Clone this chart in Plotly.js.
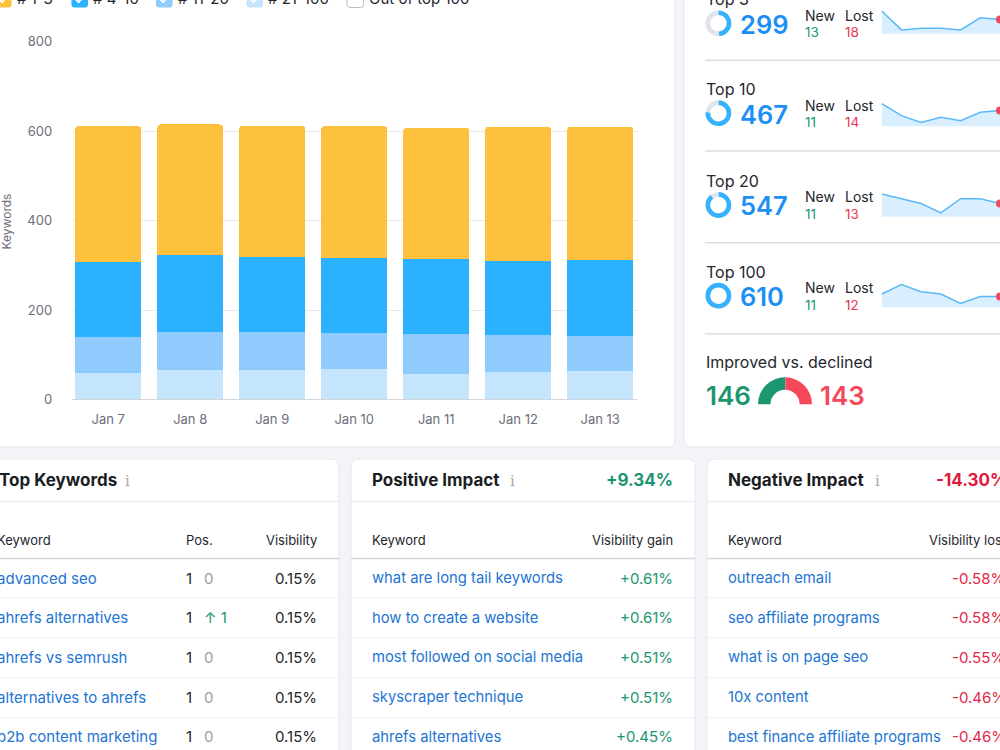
<!DOCTYPE html>
<html>
<head>
<meta charset="utf-8">
<script src="https://cdn.plot.ly/plotly-3.0.1.min.js"></script>
<style>
  html, body { margin: 0; padding: 0; background: #f3f4f8; }
  #dash { width: 1000px; height: 750px; }
</style>
</head>
<body>
<div id="dash"></div>
<script>
// ---- Ranking data, Jan 7 – Jan 13 ----
const days = ['Jan 7', 'Jan 8', 'Jan 9', 'Jan 10', 'Jan 11', 'Jan 12', 'Jan 13'];
// cumulative number of keywords ranking in each tier
const top3   = [304, 293, 294, 294, 293, 300, 299];
const top10  = [471, 464, 460, 463, 461, 466, 467];
const top20  = [551, 549, 547, 543, 549, 549, 547];
const top100 = [611, 615, 612, 611, 607, 610, 610];

const seriesNames = ['# 1-3', '# 4-10', '# 11-20', '# 21-100', 'Out of top 100'];
const yTicks = [0, 200, 400, 600, 800];

const tierNames = ['Top 3', 'Top 10', 'Top 20', 'Top 100'];
const tierNew  = [13, 11, 11, 11];
const tierLost = [18, 14, 13, 12];

const improved = 146;
const declined = 143;

const topKeywords   = ['advanced seo', 'ahrefs alternatives', 'ahrefs vs semrush', 'alternatives to ahrefs', 'b2b content marketing'];
const topPos        = [1, 1, 1, 1, 1];
const topPosChange  = [0, 1, 0, 0, 0];
const topVisibility = [0.15, 0.15, 0.15, 0.15, 0.15];

const posKeywords = ['what are long tail keywords', 'how to create a website', 'most followed on social media', 'skyscraper technique', 'ahrefs alternatives'];
const posGain     = [0.61, 0.61, 0.51, 0.51, 0.45];
const posTotal    = 9.34;

const negKeywords = ['outreach email', 'seo affiliate programs', 'what is on page seo', '10x content', 'best finance affiliate programs'];
const negLoss     = [-0.58, -0.58, -0.55, -0.46, -0.46];
const negTotal    = -14.30;

// ---- styling ----
const W = 1000, H = 750;
const FONT = 'Inter, "Noto Sans", sans-serif';
const C = {
  gold: '#fdc13e', blue: '#2cb1fe', sky: '#8fcbfd', pale: '#c5e5fd',
  ring: '#35b2fb', ringBg: '#e1e4ea', num: '#1c8ff5',
  green: '#1c9571', red: '#e8384f', redBright: '#f7485b',
  link: '#2275d3', text: '#24262d', muted: '#6c6e79', grid: '#e6e8ed'
};
const X = px => px / W;
const Y = py => 1 - py / H;

// stacked segments from the cumulative tiers
const seg13   = top3.slice();
const seg410  = top10.map((v, i) => v - top3[i]);
const seg1120 = top20.map((v, i) => v - top10[i]);
const seg21   = top100.map((v, i) => v - top20[i]);

const traces = [];
const stack = [
  { name: seriesNames[3], y: seg21,   color: C.pale },
  { name: seriesNames[2], y: seg1120, color: C.sky },
  { name: seriesNames[1], y: seg410,  color: C.blue },
  { name: seriesNames[0], y: seg13,   color: C.gold }
];
stack.forEach(s => traces.push({
  type: 'bar', x: days, y: s.y, name: s.name, marker: { color: s.color, line: { width: 0 } },
  showlegend: false, hoverinfo: 'x+y+name', xaxis: 'x', yaxis: 'y'
}));

// ---- shapes & annotations ----
const shapes = [];
const annotations = [];

function roundRect(x0, y0, x1, y1, r, fill, line) {
  const rx = r / W, ry = r / H;
  const a = X(x0), b = X(x1), t = Y(y0), u = Y(y1);
  const p = `M ${a + rx} ${t} L ${b - rx} ${t} Q ${b} ${t} ${b} ${t - ry} L ${b} ${u + ry} Q ${b} ${u} ${b - rx} ${u} ` +
            `L ${a + rx} ${u} Q ${a} ${u} ${a} ${u + ry} L ${a} ${t - ry} Q ${a} ${t} ${a + rx} ${t} Z`;
  shapes.push({ type: 'path', xref: 'paper', yref: 'paper', path: p, fillcolor: fill,
    line: { color: line || 'rgba(0,0,0,0)', width: line ? 1 : 0 }, layer: 'below' });
}
function hline(x0, x1, y, color, width) {
  shapes.push({ type: 'line', xref: 'paper', yref: 'paper', x0: X(x0), x1: X(x1), y0: Y(y), y1: Y(y),
    line: { color: color, width: width || 1 }, layer: 'below' });
}
// text helper; the shift compensates for the annotation box padding
function txt(x, y, text, size, color, opt) {
  opt = opt || {};
  const anchor = opt.anchor || 'left';
  const shift = anchor === 'left' ? -1.8 : (anchor === 'right' ? 1.8 : 0);
  annotations.push({
    xref: 'paper', yref: 'paper', x: X(x + shift), y: Y(y), text: String(text), showarrow: false,
    xanchor: anchor, yanchor: 'middle', textangle: opt.angle || 0,
    font: { family: opt.family || FONT, size: size, color: color, weight: opt.weight || 400 }
  });
}

// cards
roundRect(-12, -12, 675, 447, 8, '#ffffff', '#e7e8ed');
roundRect(684, -12, 1012, 447, 8, '#ffffff', '#e7e8ed');
const cardX = [[-12, 339], [351, 695], [707, 1051]];
cardX.forEach(c => roundRect(c[0], 459, c[1], 770, 8, '#ffffff', '#e7e8ed'));

// chart legend (check boxes)
const legColors = [C.gold, C.blue, C.sky, C.pale, '#ffffff'];
const legBoxX = [-5, 71.5, 156, 246.5, 347];
seriesNames.forEach((n, i) => {
  const x0 = legBoxX[i], y0 = -9, s = 16.5;
  const empty = i === 4;
  roundRect(x0, y0, x0 + s, y0 + s, 3, legColors[i], empty ? '#b9bcc5' : null);
  if (!empty) {
    shapes.push({ type: 'path', xref: 'paper', yref: 'paper',
      path: `M ${X(x0 + 4.5)} ${Y(y0 + 8.5)} L ${X(x0 + 7.2)} ${Y(y0 + 11.2)} L ${X(x0 + 12)} ${Y(y0 + 5.5)}`,
      line: { color: '#ffffff', width: 1.8 } });
  }
  txt(x0 + 21.5, -2, n, 15, C.text);
});
txt(5.5, 222, 'Keywords', 12, C.muted, { angle: -90, anchor: 'center' });

// right card: tier summaries
const tierSeries = [top3, top10, top20, top100];
const tierMid = [23.8, 113.7, 205.5, 296.2];
const total = top100[top100.length - 1];
[60.3, 151, 242.7, 333.7].forEach(y => hline(705, 1000, y, '#dcdee4', 1.5));

tierNames.forEach((name, i) => {
  const N = tierMid[i];
  const cur = tierSeries[i][tierSeries[i].length - 1];
  txt(705.5, N - 24.7, name, 16, C.text);
  txt(739.5, N + 0.5, cur, 25.5, C.num, { weight: 600 });
  txt(804.5, N - 8.5, 'New', 14, C.text);
  txt(804.5, N + 8.5, tierNew[i], 13.5, C.green);
  txt(845, N - 8.5, 'Lost', 14, C.text);
  txt(845, N + 8.5, tierLost[i], 13.5, C.red);

  // ring: share of the tier within the top 100
  traces.push({
    type: 'pie', values: [cur, total - cur], sort: false, direction: 'clockwise', rotation: 0,
    hole: 0.64, textinfo: 'none', hoverinfo: 'skip', showlegend: false,
    marker: { colors: [C.ring, C.ringBg], line: { width: 0 } },
    domain: { x: [X(705.5), X(731.3)], y: [Y(N + 12.4), Y(N - 13.4)] }
  });

  // sparkline
  const s = tierSeries[i];
  const lo = Math.min(...s), hi = Math.max(...s), pad = (hi - lo) * 0.2;
  const bottom = [33.7, 126.3, 216.7, 307.3][i];
  const ax = i + 2;
  traces.push({
    type: 'scatter', mode: 'lines', x: days, y: s, fill: 'tozeroy',
    fillcolor: '#d9eefe', line: { color: '#5ab9f7', width: 1.5 },
    hoverinfo: 'skip', showlegend: false, xaxis: 'x' + ax, yaxis: 'y' + ax
  });
  traces.push({
    type: 'scatter', mode: 'markers', x: [days[days.length - 1]], y: [s[s.length - 1]],
    marker: { color: '#f0485c', size: 8 }, cliponaxis: false,
    hoverinfo: 'skip', showlegend: false, xaxis: 'x' + ax, yaxis: 'y' + ax
  });
  window['_ax' + ax] = {
    x: { domain: [X(881.7), X(1000)], range: [0, days.length - 1], visible: false, fixedrange: true },
    y: { domain: [Y(bottom), Y(bottom - 26.5)], range: [lo - pad, hi + pad], visible: false, fixedrange: true }
  };
});

// improved vs declined gauge
txt(705.5, 362, 'Improved vs. declined', 16, C.text);
txt(705.5, 395.5, improved, 26, C.green, { weight: 600 });
txt(819.5, 395.5, declined, 26, C.redBright, { weight: 600 });
traces.push({
  type: 'pie', values: [improved, declined, improved + declined], sort: false,
  direction: 'clockwise', rotation: -90, hole: 0.54, textinfo: 'none', hoverinfo: 'skip', showlegend: false,
  marker: { colors: [C.green, C.redBright, 'rgba(0,0,0,0)'], line: { width: 0 } },
  domain: { x: [X(758), X(812)], y: [Y(431.3), Y(377.3)] }
});

// ---- bottom tables ----
const rowY = [578, 617.5, 657, 697, 736.5];
function tableLines(c) {
  hline(c[0], c[1], 501.5, '#eceef2', 1.5);
  hline(c[0], c[1], 558.5, '#d6d8de', 1.5);
  [597.7, 637.7, 677.7, 717.7].forEach(y => hline(c[0], c[1], y, '#eceef2', 1));
}
cardX.forEach(tableLines);
const INFO_FONT = '"DejaVu Serif", serif';

// Top keywords
txt(-1, 480, 'Top Keywords', 17, '#1b1d24', { weight: 700 });
txt(127.5, 481, 'i', 15, '#a4a7b0', { family: INFO_FONT, anchor: 'center' });
txt(-3, 540, 'Keyword', 13, C.text);
txt(185.5, 540, 'Pos.', 13, C.text);
txt(317.5, 540, 'Visibility', 13, C.text, { anchor: 'right' });
topKeywords.forEach((k, i) => {
  txt(-3, rowY[i], k, 15, C.link);
  txt(185.5, rowY[i], topPos[i], 15, C.text);
  if (topPosChange[i] > 0) txt(203.5, rowY[i], '\u2191 ' + topPosChange[i], 15, C.green);
  else txt(203.5, rowY[i], topPosChange[i], 15, '#9a9ca5');
  txt(317, rowY[i], topVisibility[i].toFixed(2) + '%', 15, C.text, { anchor: 'right' });
});

// Positive impact
txt(372, 480, 'Positive Impact', 17, '#1b1d24', { weight: 700 });
txt(512.5, 481, 'i', 15, '#a4a7b0', { family: INFO_FONT, anchor: 'center' });
txt(673.5, 480, '+' + posTotal.toFixed(2) + '%', 17, C.green, { anchor: 'right', weight: 700 });
txt(372, 540, 'Keyword', 13, C.text);
txt(673.5, 540, 'Visibility gain', 13, C.text, { anchor: 'right' });
posKeywords.forEach((k, i) => {
  txt(372, rowY[i], k, 14.8, C.link);
  txt(673.5, rowY[i], '+' + posGain[i].toFixed(2) + '%', 15, C.green, { anchor: 'right' });
});

// Negative impact
txt(728, 480, 'Negative Impact', 17, '#1b1d24', { weight: 700 });
txt(877, 481, 'i', 15, '#a4a7b0', { family: INFO_FONT, anchor: 'center' });
txt(936, 480, negTotal.toFixed(2) + '%', 17, '#e0193e', { weight: 700 });
txt(728, 540, 'Keyword', 13, C.text);
txt(929, 540, 'Visibility loss', 13, C.text);
negKeywords.forEach((k, i) => {
  txt(728, rowY[i], k, 14.8, C.link);
  txt(951.5, rowY[i], negLoss[i].toFixed(2) + '%', 15, '#e0284a');
});

// ---- layout ----
const layout = {
  width: W, height: H, margin: { l: 0, r: 0, t: 0, b: 0 },
  paper_bgcolor: '#f3f4f8', plot_bgcolor: 'rgba(0,0,0,0)',
  font: { family: FONT, color: C.muted },
  barmode: 'stack', bargap: 0.2, barcornerradius: 3,
  xaxis: {
    domain: [X(71.7), X(636.7)], type: 'category', range: [-0.445, 6.445],
    showgrid: false, zeroline: false, showline: false, fixedrange: true,
    ticks: 'outside', ticklen: 8, tickcolor: 'rgba(0,0,0,0)',
    tickfont: { family: FONT, size: 13, color: C.muted }
  },
  yaxis: {
    domain: [Y(399.5), Y(41.7)], range: [0, 800], tickvals: yTicks,
    showgrid: true, gridcolor: C.grid, gridwidth: 1,
    zeroline: true, zerolinecolor: '#d3d6dd', zerolinewidth: 1, showline: false, fixedrange: true,
    ticks: 'outside', ticklen: 16, tickcolor: 'rgba(0,0,0,0)',
    tickfont: { family: FONT, size: 13, color: C.muted }
  },
  shapes: shapes,
  annotations: annotations,
  hovermode: false
};
for (let ax = 2; ax <= 5; ax++) {
  layout['xaxis' + ax] = Object.assign({ anchor: 'y' + ax }, window['_ax' + ax].x);
  layout['yaxis' + ax] = Object.assign({ anchor: 'x' + ax }, window['_ax' + ax].y);
}

Plotly.newPlot('dash', traces, layout, { displayModeBar: false, staticPlot: true });
</script>
</body>
</html>
